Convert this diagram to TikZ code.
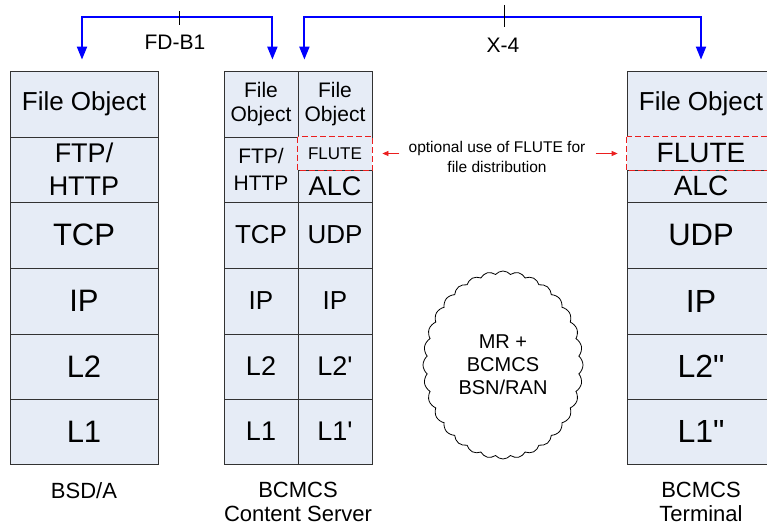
\documentclass[tikz,border=0pt]{standalone}
\usepackage{fontspec}
\newfontfamily\lsans{Liberation Sans}
\usetikzlibrary{arrows.meta,shapes.symbols}
\definecolor{cellfill}{RGB}{230,236,246}
\definecolor{edgecol}{RGB}{50,50,50}
\definecolor{dashred}{RGB}{235,30,30}
\begin{document}
\begin{tikzpicture}[x=1pt,y=-1pt,
  cell/.style={draw=edgecol, line width=0.8pt, fill=cellfill, inner sep=0pt, align=center},
  wide/.style={cell, minimum width=148pt},
  narrow/.style={cell, minimum width=74pt},
  fs/.style={font=\lsans\fontsize{#1}{#1}\selectfont},
  fsl/.style 2 args={font=\lsans\fontsize{#1}{#2}\selectfont},
  flutebox/.style={draw=dashred, dash pattern=on 6pt off 3pt, line width=1.2pt},
  barr/.style={draw=blue, line width=2pt, {Triangle[length=13pt,width=10pt]}-{Triangle[length=13pt,width=10pt]}},
  rarr/.style={draw=dashred, line width=0.8pt, -{Triangle[length=6pt,width=5pt]}},
  lbl/.style={inner sep=0pt, align=center}]
\clip (0,0) rectangle (767,526);
\fill[white] (0,0) rectangle (767,526);

% Left stack (BSD/A)
\node[wide, minimum height=66pt, fs=26] (lfo) at (84,104) {File Object};
\node[wide, minimum height=65pt, fsl={27}{33}] (lftp) at (84,169.5) {FTP/\\HTTP};
\node[wide, minimum height=66pt, fs=31] (ltcp) at (84,235) {TCP};
\node[wide, minimum height=66pt, fs=31] (lip) at (84,301) {IP};
\node[wide, minimum height=65pt, fs=31] (ll2) at (84,366.5) {L2};
\node[wide, minimum height=65pt, fs=31] (ll1) at (84,431.5) {L1};

% Middle stack, left column
\node[narrow, minimum height=66pt, fsl={21}{24}] (mfo1) at (261,104) {File\\Object};
\node[narrow, minimum height=65pt, fsl={21}{27}] (mftp) at (261,169.5) {FTP/\\HTTP};
\node[narrow, minimum height=66pt, fs=26] (mtcp) at (261,235) {TCP};
\node[narrow, minimum height=66pt, fs=26] (mip) at (261,301) {IP};
\node[narrow, minimum height=65pt, fs=27] (ml2) at (261,366.5) {L2};
\node[narrow, minimum height=65pt, fs=27] (ml1) at (261,431.5) {L1};

% Middle stack, right column
\node[narrow, minimum height=66pt, fsl={21}{24}] (mfo2) at (335,104) {File\\Object};
\node[narrow, minimum height=32pt, fs=27] (malc) at (335,186) {ALC};
\node[narrow, minimum height=33pt, fs=17, draw=none] (mflute) at (335,153.5) {FLUTE};
\draw[flutebox] (mflute.north west) rectangle (mflute.south east);
\node[narrow, minimum height=66pt, fs=26] (mudp) at (335,235) {UDP};
\node[narrow, minimum height=66pt, fs=26] (mip2) at (335,301) {IP};
\node[narrow, minimum height=65pt, fs=27] (ml2p) at (335,366.5) {L2'};
\node[narrow, minimum height=65pt, fs=27] (ml1p) at (335,431.5) {L1'};

% Right stack (Terminal)
\node[wide, minimum height=66pt, fs=26] (rfo) at (701,104) {File Object};
\node[wide, minimum height=32pt, fs=28] (ralc) at (701,186) {ALC};
\node[wide, minimum height=33pt, fs=28, draw=none] (rflute) at (701,153.5) {FLUTE};
\draw[flutebox] (rflute.north west) rectangle (rflute.south east);
\node[wide, minimum height=66pt, fs=31] (rudp) at (701,235) {UDP};
\node[wide, minimum height=66pt, fs=32] (rip) at (701,301) {IP};
\node[wide, minimum height=65pt, fs=32] (rl2) at (701,366.5) {L2"};
\node[wide, minimum height=65pt, fs=32] (rl1) at (701,431.5) {L1"};

% Bottom labels
\node[lbl, fs=22] (bsd) at (84,491) {BSD/A};
\node[lbl, fsl={22}{24}, anchor=north] (bcs) at (298,482) {BCMCS\\Content Server};
\node[lbl, fsl={22}{24}, anchor=north] (bterm) at (701,482) {BCMCS\\Terminal};

% Cloud
\node[cloud, draw=black, line width=0.8pt, cloud puffs=32, cloud puff arc=100,
      minimum width=160pt, minimum height=188pt, aspect=0.86, inner sep=0pt] (cloud) at (503,365) {};
\node[lbl, fsl={20}{23}] (cloudtxt) at (cloud.center) {MR +\\BCMCS\\BSN/RAN};

% FD-B1 interface
\coordinate (fdtop) at (179,17);
\draw[barr] ([xshift=-2pt,yshift=11pt]lfo.north) |- (fdtop) -| ([xshift=-26pt,yshift=11pt]mfo1.north east);
\draw[line width=0.8pt] (179,11) -- (179,25);
\node[lbl, fs=21] (fdlbl) at (175,42) {FD-B1};

% X-4 interface
\coordinate (xtop) at (504,17);
\draw[barr] ([xshift=6pt,yshift=11pt]mfo1.north east) |- (xtop) -| ([yshift=11pt]rfo.north);
\draw[line width=0.8pt] (504,5) -- (504,27);
\node[lbl, fs=21] (xlbl) at (503,45) {X-4};

% Optional FLUTE note
\node[lbl, fsl={15.5}{20}] (opt) at (497,157) {optional use of FLUTE for\\file distribution};
\coordinate (oL) at ([xshift=-9pt]opt.west);
\coordinate (oR) at ([xshift=10pt]opt.east);
\draw[rarr] (oL |- mflute.east) -- ([xshift=10pt]mflute.east);
\draw[rarr] (oR |- rflute.west) -- ([xshift=-9pt]rflute.west);
\end{tikzpicture}
\end{document}
